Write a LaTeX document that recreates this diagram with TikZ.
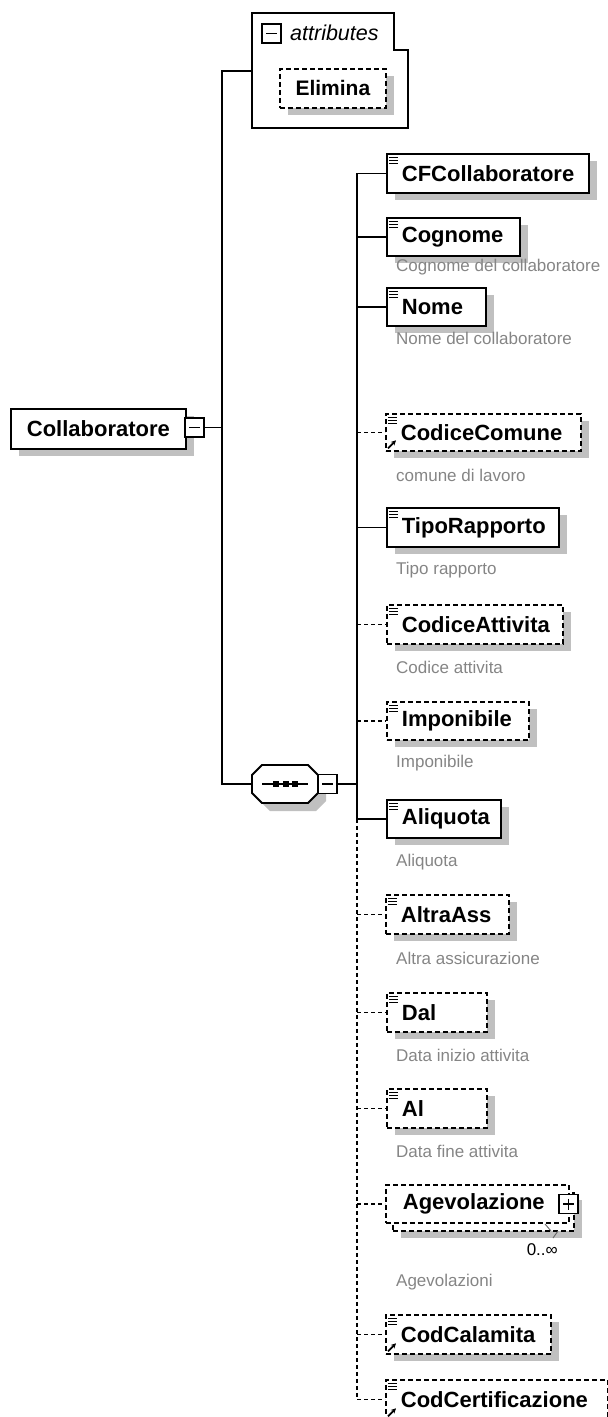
\documentclass[tikz,border=0pt]{standalone}
\usepackage{fontspec}
\setmainfont{Liberation Sans}
\usetikzlibrary{shadows,arrows.meta}
\definecolor{shadowgray}{HTML}{C0C0C0}
\definecolor{descgray}{HTML}{858585}
\begin{document}
\begin{tikzpicture}[x=1pt,y=-1pt,
  box/.style={draw, line width=1.8pt, fill=white, inner sep=0pt, anchor=north west,
    font=\bfseries\fontsize{22}{26}\selectfont},
  bw/.code={\pgfmathsetlengthmacro\tw{#1-30pt}\tikzset{minimum width=#1, text width=\tw, align=left}},
  shad/.style={drop shadow={shadow xshift=8pt, shadow yshift=-7pt, opacity=1, fill=shadowgray, draw=none}},
  req/.style={box, shad},
  opt/.style={box, shad, dash pattern=on 5pt off 3pt},
  desc/.style={anchor=west, inner sep=0pt, text=descgray, font=\fontsize{17}{20}\selectfont},
  conn/.style={line width=1.8pt},
  dconn/.style={conn, dash pattern=on 4pt off 3pt},
  icon/.style={draw, line width=1.4pt, fill=white, minimum size=19pt, inner sep=0pt},
  minusicon/.style={icon, path picture={\draw[line width=1.3pt] ([xshift=4pt]path picture bounding box.west) -- ([xshift=-4pt]path picture bounding box.east);}},
  plusicon/.style={icon, path picture={\draw[line width=1.3pt] ([xshift=4pt]path picture bounding box.west) -- ([xshift=-4pt]path picture bounding box.east) ([yshift=-4pt]path picture bounding box.north) -- ([yshift=4pt]path picture bounding box.south);}}
]
\useasboundingbox (0,0) rectangle (608,1417);

% ---- attributes group ----
\draw[line width=1.8pt, fill=white] (252,13) -- (394,13) -- (394,50) -- (408,50) -- (408,128) -- (252,128) -- cycle;
\coordinate (attL) at (252,71);
\node[minusicon] (attI) at (271.5,33.5) {};
\node[anchor=west, inner sep=0pt, font=\itshape\fontsize{21.5}{24}\selectfont] (attT) at (290,33) {attributes};
\node[opt, font=\bfseries\fontsize{21}{24}\selectfont, minimum width=106pt, minimum height=39pt] (elim) at (279,68) {Elimina};

% ---- root ----
\node[req, minimum width=175pt, minimum height=40pt] (col) at (10,408) {Collaboratore};
\node[minusicon] (colI) at (194.5,427.5) {};

% ---- sequence compositor ----
\fill[shadowgray] (270,773) -- (316,773) -- (326,783) -- (326,801) -- (316,811) -- (270,811) -- (260,801) -- (260,783) -- cycle;
\draw[line width=1.8pt, fill=white] (262,765) -- (308,765) -- (318,775) -- (318,793) -- (308,803) -- (262,803) -- (252,793) -- (252,775) -- cycle;
\coordinate (seqL) at (252,784);
\draw[line width=1.5pt] (262,784) -- (308,784);
\foreach \dx in {276,285.5,295} \fill (\dx-3,781) rectangle (\dx+3,787);
\node[minusicon] (seqI) at (327.5,784) {};

% ---- children ----
\node[req, bw=202pt, minimum height=39pt] (cf)   at (386,153)  {CFCollaboratore};
\node[req, bw=133pt, minimum height=38pt] (cog)  at (386,217)  {Cognome};
\node[req, bw=99pt,  minimum height=38pt] (nome) at (386,287)  {Nome};
\node[opt, bw=195pt, minimum height=37pt] (cc)   at (385,413)  {CodiceComune};
\node[req, bw=172pt, minimum height=39pt] (tr)   at (386,507)  {TipoRapporto};
\node[opt, bw=176pt, minimum height=39pt] (ca)   at (386,604)  {CodiceAttivita};
\node[opt, bw=142pt, minimum height=38pt] (imp)  at (386,701)  {Imponibile};
\node[req, bw=114pt, minimum height=38pt] (ali)  at (386,799)  {Aliquota};
\node[opt, bw=123pt, minimum height=39pt] (aa)   at (385,894)  {AltraAss};
\node[opt, bw=100pt, minimum height=39pt] (dal)  at (386,992)  {Dal};
\node[opt, bw=100pt, minimum height=39pt] (al)   at (386,1088) {Al};
\node[opt, minimum width=181pt, minimum height=38pt] (agevB) at (392,1192) {};
\node[box, dash pattern=on 5pt off 3pt, bw=183pt, minimum height=38pt] (agev) at (385,1184) {\hspace*{2pt}Agevolazione};
\node[plusicon] (agevI) at (568.5,1204) {};
\node[opt, bw=165pt, minimum height=39pt] (cal)  at (385,1314) {CodCalamita};
\node[opt, bw=222pt, minimum height=39pt] (cert) at (385,1379) {CodCertificazione};

% element icons
\foreach \n in {cf,cog,nome,cc,tr,ca,imp,ali,aa,dal,al,cal,cert}{
  \foreach \dy in {4.5,7.5,10.5}
    \draw[line width=1.2pt] ([shift={(3pt,-\dy pt)}]\n.north west) -- ++(9pt,0pt);
}
% reference arrows
\foreach \n in {cc,cal,cert}{
  \draw[line width=1.8pt, -{Stealth[length=5pt,width=5pt]}] ([shift={(3pt,3.5pt)}]\n.south west) -- ++(8pt,8pt);
}

% multiplicity
\draw[line width=0.9pt, black!60] (545,1224) -- (551,1231) (553,1238) -- (558,1231);
\node[anchor=east, inner sep=0pt, font=\fontsize{17}{20}\selectfont] (mult) at (558,1250) {0..∞};

% descriptions
\node[desc] (dcog)  at (396,267)  {Cognome del collaboratore};
\node[desc] (dnome) at (396,338)  {Nome del collaboratore};
\node[desc] (dcc)   at (396,475)  {comune di lavoro};
\node[desc] (dtr)   at (396,570)  {Tipo rapporto};
\node[desc] (dca)   at (396,667)  {Codice attivita};
\node[desc] (dimp)  at (396,763)  {Imponibile};
\node[desc] (dali)  at (396,862)  {Aliquota};
\node[desc] (daa)   at (396,958)  {Altra assicurazione};
\node[desc] (ddal)  at (396,1055) {Data inizio attivita};
\node[desc] (dal2)  at (396,1151) {Data fine attivita};
\node[desc] (dagev) at (396,1282) {Agevolazioni};

% ---- connectors ----
\coordinate (j1) at (222,427.5);
\coordinate (trunk) at (357,0);
\draw[conn] (colI.east) -- (j1);
\draw[conn] (attL) -| (j1) |- (seqL);
\draw[conn] (seqI.east) -- (seqI.east -| trunk);
\draw[conn] (cf.west -| trunk) -- (ali.west -| trunk);
\draw[dconn] (ali.west -| trunk) -- (cert.west -| trunk);
\foreach \n in {cf,cog,nome,tr,ali}
  \draw[conn] (\n.west -| trunk) -- (\n.west);
\foreach \n in {cc,ca,imp,aa,dal,al,agev,cal,cert}
  \draw[dconn] (\n.west -| trunk) -- (\n.west);
\end{tikzpicture}
\end{document}
